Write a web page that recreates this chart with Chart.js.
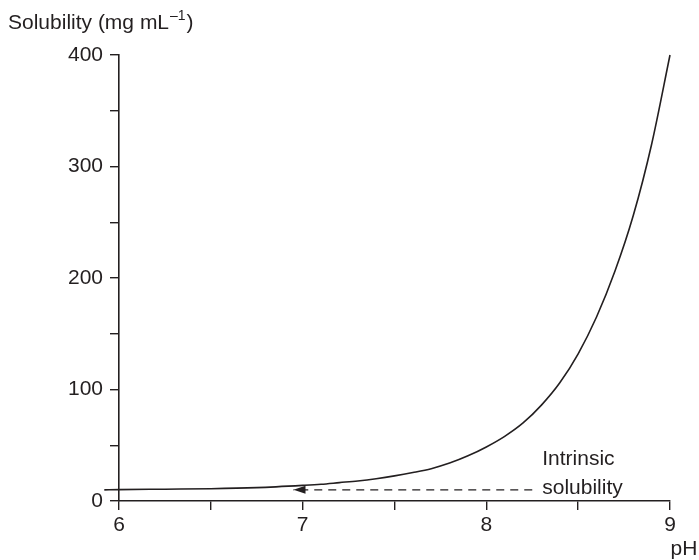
<!DOCTYPE html>
<html>
<head>
<meta charset="utf-8">
<script src="https://cdn.jsdelivr.net/npm/chart.js@4"></script>
<style>
  html, body { margin: 0; padding: 0; background: #fff; }
  #wrap { position: relative; width: 699px; height: 560px; }
</style>
</head>
<body>
<div id="wrap"><canvas id="solubilityChart"></canvas></div>
<script>
// pH-solubility profile of a weak acid
const phValues = [5.92, 6.0, 6.25, 6.5, 6.75, 7.0, 7.1, 7.2, 7.3, 7.4, 7.5, 7.6, 7.7, 7.8, 7.9, 8.0,
    8.1, 8.2, 8.3, 8.4, 8.5, 8.6, 8.7, 8.8, 8.9, 9.0];
const solubility = [10, 10.2, 10.6, 11, 12, 14, 15, 16.5, 18, 20, 22.5, 25.5, 29, 34, 40.5, 48.5,
    58, 70, 86, 106, 132, 165, 206, 256, 320, 400];

// dashed arrow pointing to the intrinsic solubility level
const arrowPh = [8.25, 6.95];
const intrinsicLevel = 10;
const noteLines = ["Intrinsic", "solubility"];

const xTickLabels = [6, 7, 8, 9];
const yTickLabels = [0, 100, 200, 300, 400];

const ink = "#231f20";
const fontFamily = "'Liberation Sans', Arial, Helvetica, sans-serif";

const extras = {
    id: "extras",
    afterDatasetsDraw(chart) {
        const { ctx, scales: { x, y } } = chart;
        ctx.save();
        ctx.fillStyle = ink;

        // arrow head at the end of the dashed line
        const tipX = x.getPixelForValue(arrowPh[1]);
        const tipY = y.getPixelForValue(intrinsicLevel);
        ctx.beginPath();
        ctx.moveTo(tipX, tipY);
        ctx.lineTo(tipX + 12, tipY - 4);
        ctx.lineTo(tipX + 12, tipY + 4);
        ctx.closePath();
        ctx.fill();

        // note next to the dashed line
        ctx.font = "21px " + fontFamily;
        ctx.textBaseline = "middle";
        ctx.textAlign = "left";
        const noteX = x.getPixelForValue(arrowPh[0]) + 10;
        ctx.fillText(noteLines[0], noteX, tipY - 31);
        ctx.fillText(noteLines[1], noteX, tipY - 2);

        // axis titles
        ctx.textBaseline = "alphabetic";
        let tx = 8;
        const ty = 29;
        ctx.font = "21px " + fontFamily;
        const part1 = "Solubility (mg mL";
        ctx.fillText(part1, tx, ty);
        tx += ctx.measureText(part1).width;
        ctx.font = "14px " + fontFamily;
        ctx.fillText("\u20131", tx + 1, ty - 9);
        tx += ctx.measureText("\u20131").width + 2;
        ctx.font = "21px " + fontFamily;
        ctx.fillText(")", tx, ty);

        ctx.textAlign = "center";
        ctx.fillText("pH", x.right + 14, chart.height - 5);
        ctx.restore();
    }
};

new Chart(document.getElementById("solubilityChart"), {
    type: "line",
    data: {
        datasets: [
            {
                data: phValues.map((p, i) => ({ x: p, y: solubility[i] })),
                borderColor: ink,
                borderWidth: 1.6,
                pointRadius: 0,
                cubicInterpolationMode: "monotone",
                clip: false,
            },
            {
                data: arrowPh.map((p) => ({ x: p, y: intrinsicLevel })),
                borderColor: ink,
                borderWidth: 1.4,
                borderDash: [8, 6],
                pointRadius: 0,
                clip: false,
            },
        ],
    },
    plugins: [extras],
    options: {
        responsive: true,
        maintainAspectRatio: false,
        animation: false,
        events: [],
        layout: { padding: { top: 55, right: 29, left: 0, bottom: 0 } },
        plugins: {
            legend: { display: false },
            tooltip: { enabled: false },
        },
        scales: {
            x: {
                type: "linear",
                min: 6,
                max: 9,
                afterFit: (scale) => { scale.height = 59; },
                afterBuildTicks: (scale) => {
                    scale.ticks = [6, 6.5, 7, 7.5, 8, 8.5, 9].map((v) => ({ value: v }));
                },
                ticks: {
                    color: ink,
                    font: { family: fontFamily, size: 21 },
                    padding: 3,
                    maxRotation: 0,
                    autoSkip: false,
                    callback: (v) => (xTickLabels.includes(v) ? String(v) : ""),
                },
                grid: {
                    drawOnChartArea: false,
                    drawTicks: true,
                    tickLength: 9,
                    color: ink,
                    lineWidth: 1.4,
                },
                border: { display: true, color: ink, width: 1.6 },
            },
            y: {
                min: 0,
                max: 400,
                afterFit: (scale) => { scale.width = 119; },
                afterBuildTicks: (scale) => {
                    scale.ticks = [0, 50, 100, 150, 200, 250, 300, 350, 400].map((v) => ({ value: v }));
                },
                ticks: {
                    color: ink,
                    font: { family: fontFamily, size: 21 },
                    padding: 7,
                    autoSkip: false,
                    callback: (v) => (yTickLabels.includes(v) ? String(v) : ""),
                },
                grid: {
                    drawOnChartArea: false,
                    drawTicks: true,
                    tickLength: 9,
                    color: ink,
                    lineWidth: 1.4,
                },
                border: { display: true, color: ink, width: 1.6 },
            },
        },
    },
});
</script>
</body>
</html>
